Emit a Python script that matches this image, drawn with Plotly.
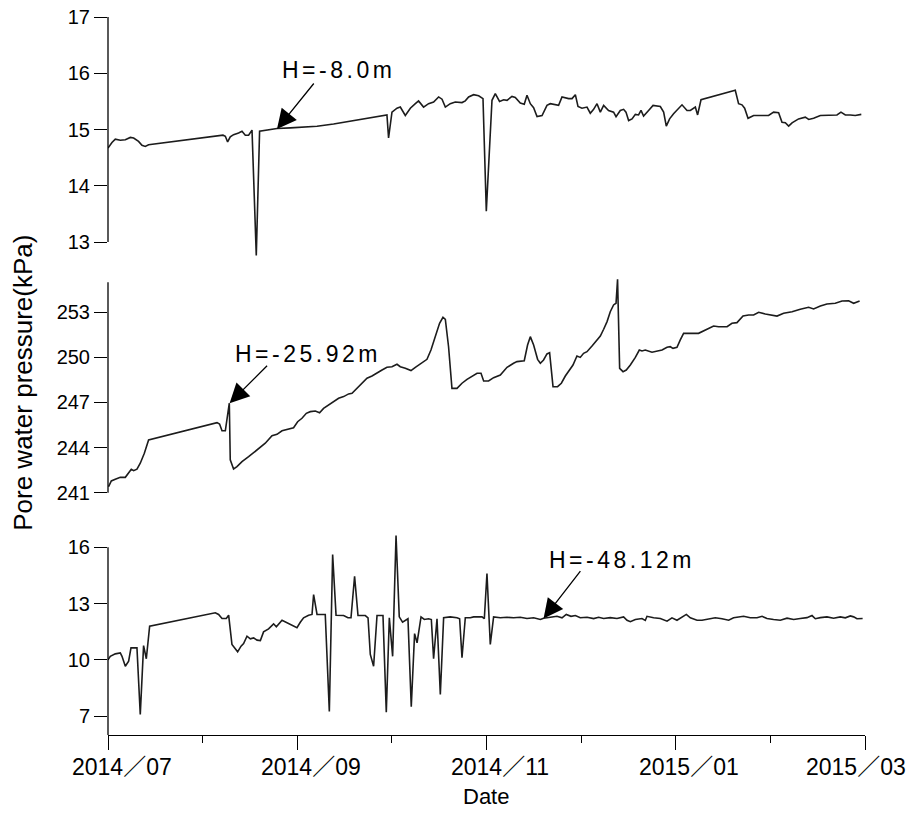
import plotly.graph_objects as go

# time axis: months elapsed since 2014/07/01 (one tick per month)
month_ticks = [0, 2, 4, 6, 8]
month_labels = ["2014／07", "2014／09", "2014／11", "2015／01", "2015／03"]
minor_month_ticks = [1, 3, 5, 7]

# ---------------- H = -8.0 m ----------------
t_top = [0.000, 0.042, 0.077, 0.130, 0.183, 0.236, 0.271, 0.323, 0.359, 0.394,
         0.429, 1.215, 1.240, 1.264, 1.292, 1.327, 1.380, 1.416, 1.451, 1.486,
         1.522, 1.567, 1.602, 1.680, 1.786, 1.927, 2.067, 2.209, 2.384, 2.561,
         2.737, 2.878, 2.948, 2.965, 3.001, 3.054, 3.089, 3.142, 3.195, 3.248,
         3.282, 3.335, 3.388, 3.441, 3.494, 3.530, 3.565, 3.617, 3.670, 3.741,
         3.776, 3.811, 3.864, 3.917, 3.963, 3.998, 4.058, 4.093, 4.138, 4.181,
         4.217, 4.269, 4.304, 4.357, 4.399, 4.428, 4.463, 4.498, 4.534, 4.587,
         4.639, 4.674, 4.762, 4.798, 4.868, 4.904, 4.939, 4.967, 5.009, 5.062,
         5.097, 5.132, 5.168, 5.203, 5.238, 5.290, 5.343, 5.369, 5.414, 5.449,
         5.474, 5.502, 5.538, 5.573, 5.607, 5.633, 5.660, 5.713, 5.760, 5.837,
         5.872, 5.900, 5.935, 5.977, 6.030, 6.066, 6.119, 6.154, 6.207, 6.231,
         6.267, 6.629, 6.664, 6.700, 6.728, 6.764, 6.823, 6.981, 7.034, 7.087,
         7.123, 7.158, 7.193, 7.229, 7.298, 7.369, 7.405, 7.457, 7.528, 7.704,
         7.746, 7.792, 7.845, 7.897, 7.961]
p_top = [14.67, 14.77, 14.83, 14.81, 14.82, 14.86, 14.85, 14.79, 14.72, 14.70,
         14.73, 14.90, 14.88, 14.78, 14.87, 14.91, 14.94, 14.97, 14.90, 14.90,
         14.99, 12.76, 14.97, 14.99, 15.02, 15.03, 15.04, 15.06, 15.10, 15.15,
         15.19, 15.24, 15.26, 14.85, 15.31, 15.38, 15.40, 15.25, 15.38, 15.46,
         15.51, 15.40, 15.46, 15.49, 15.58, 15.54, 15.40, 15.46, 15.49, 15.48,
         15.51, 15.58, 15.62, 15.60, 15.55, 13.55, 15.52, 15.64, 15.50, 15.53,
         15.52, 15.59, 15.57, 15.47, 15.45, 15.61, 15.46, 15.39, 15.23, 15.25,
         15.43, 15.46, 15.43, 15.58, 15.55, 15.55, 15.62, 15.41, 15.38, 15.40,
         15.29, 15.36, 15.46, 15.31, 15.43, 15.34, 15.31, 15.23, 15.34, 15.36,
         15.31, 15.16, 15.19, 15.27, 15.26, 15.34, 15.24, 15.34, 15.43, 15.41,
         15.31, 15.06, 15.19, 15.28, 15.38, 15.44, 15.34, 15.34, 15.40, 15.26,
         15.53, 15.70, 15.46, 15.44, 15.38, 15.20, 15.25, 15.25, 15.31, 15.30,
         15.13, 15.12, 15.06, 15.12, 15.19, 15.22, 15.18, 15.20, 15.25, 15.26,
         15.31, 15.26, 15.26, 15.25, 15.27]

# ---------------- H = -25.92 m ----------------
t_mid = [0.006, 0.035, 0.077, 0.130, 0.183, 0.218, 0.246, 0.271, 0.306, 0.341,
         0.384, 0.429, 1.152, 1.179, 1.205, 1.240, 1.268, 1.282, 1.292, 1.327,
         1.363, 1.416, 1.486, 1.575, 1.662, 1.733, 1.786, 1.839, 1.892, 1.961,
         2.004, 2.050, 2.096, 2.138, 2.191, 2.236, 2.278, 2.331, 2.384, 2.437,
         2.490, 2.543, 2.579, 2.631, 2.684, 2.737, 2.790, 2.843, 2.896, 2.948,
         3.001, 3.054, 3.089, 3.142, 3.202, 3.248, 3.318, 3.371, 3.413, 3.459,
         3.504, 3.540, 3.565, 3.599, 3.635, 3.688, 3.741, 3.794, 3.864, 3.900,
         3.942, 3.970, 4.022, 4.075, 4.146, 4.217, 4.286, 4.322, 4.399, 4.434,
         4.463, 4.498, 4.540, 4.569, 4.603, 4.639, 4.667, 4.703, 4.751, 4.791,
         4.833, 4.886, 4.914, 4.956, 4.991, 5.026, 5.062, 5.115, 5.168, 5.203,
         5.238, 5.274, 5.308, 5.343, 5.369, 5.385, 5.407, 5.443, 5.477, 5.520,
         5.573, 5.615, 5.643, 5.678, 5.749, 5.855, 5.908, 5.942, 5.971, 6.013,
         6.048, 6.083, 6.241, 6.330, 6.400, 6.453, 6.542, 6.594, 6.647, 6.711,
         6.770, 6.823, 6.876, 6.946, 7.017, 7.070, 7.140, 7.229, 7.316, 7.404,
         7.457, 7.528, 7.598, 7.686, 7.757, 7.827, 7.880, 7.943]
p_mid = [241.40, 241.78, 241.89, 242.02, 242.02, 242.29, 242.56, 242.46, 242.56, 242.96,
         243.62, 244.51, 245.66, 245.57, 245.12, 245.12, 246.39, 246.95, 243.18, 242.58,
         242.73, 243.06, 243.39, 243.84, 244.29, 244.79, 244.88, 245.12, 245.22, 245.32,
         245.72, 245.95, 246.28, 246.39, 246.43, 246.32, 246.61, 246.83, 247.05, 247.28,
         247.39, 247.57, 247.61, 247.94, 248.28, 248.61, 248.76, 248.98, 249.16, 249.34,
         249.38, 249.54, 249.38, 249.28, 249.12, 249.34, 249.61, 249.87, 250.49, 251.38,
         252.27, 252.67, 252.53, 250.71, 247.94, 247.94, 248.28, 248.54, 248.83, 248.94,
         248.94, 248.43, 248.43, 248.65, 248.83, 249.34, 249.61, 249.72, 249.78, 250.82,
         251.38, 250.82, 249.87, 249.61, 249.83, 250.23, 250.31, 248.05, 248.05, 248.28,
         248.76, 249.21, 249.49, 250.09, 250.00, 250.27, 250.38, 250.76, 251.16, 251.42,
         251.87, 252.38, 253.04, 253.49, 253.60, 255.20, 249.27, 249.05, 249.16, 249.49,
         250.00, 250.49, 250.43, 250.49, 250.34, 250.49, 250.67, 250.71, 250.60, 250.67,
         251.16, 251.60, 251.60, 251.87, 252.09, 252.04, 252.04, 252.27, 252.31, 252.75,
         252.82, 252.82, 253.00, 252.89, 252.82, 252.75, 252.93, 253.04, 253.20, 253.33,
         253.22, 253.42, 253.55, 253.60, 253.75, 253.77, 253.60, 253.75]

# ---------------- H = -48.12 m ----------------
t_bot = [0.000, 0.024, 0.077, 0.130, 0.148, 0.183, 0.218, 0.243, 0.271, 0.306,
         0.341, 0.376, 0.405, 0.440, 1.134, 1.169, 1.205, 1.250, 1.275, 1.310,
         1.370, 1.406, 1.433, 1.469, 1.504, 1.539, 1.575, 1.610, 1.644, 1.697,
         1.750, 1.779, 1.839, 1.927, 1.997, 2.032, 2.067, 2.120, 2.156, 2.173,
         2.209, 2.296, 2.339, 2.374, 2.410, 2.490, 2.536, 2.568, 2.606, 2.642,
         2.719, 2.748, 2.772, 2.807, 2.843, 2.906, 2.941, 2.973, 3.008, 3.044,
         3.078, 3.113, 3.152, 3.170, 3.205, 3.240, 3.266, 3.308, 3.343, 3.388,
         3.417, 3.441, 3.477, 3.512, 3.547, 3.617, 3.688, 3.716, 3.741, 3.776,
         3.829, 3.864, 3.952, 3.977, 4.005, 4.040, 4.075, 4.146, 4.217, 4.286,
         4.357, 4.428, 4.498, 4.569, 4.603, 4.674, 4.745, 4.798, 4.843, 4.893,
         4.939, 4.991, 5.062, 5.132, 5.185, 5.238, 5.308, 5.379, 5.449, 5.485,
         5.520, 5.573, 5.643, 5.678, 5.696, 5.766, 5.837, 5.908, 5.960, 6.013,
         6.066, 6.112, 6.154, 6.225, 6.277, 6.347, 6.418, 6.489, 6.559, 6.611,
         6.664, 6.717, 6.788, 6.859, 6.912, 6.964, 7.034, 7.105, 7.176, 7.246,
         7.316, 7.387, 7.440, 7.475, 7.528, 7.598, 7.668, 7.739, 7.792, 7.845,
         7.880, 7.915, 7.975]
p_bot = [10.00, 10.19, 10.32, 10.37, 10.19, 9.66, 9.93, 10.64, 10.64, 10.64,
         7.09, 10.76, 10.06, 11.79, 12.51, 12.42, 12.20, 12.20, 12.38, 10.82,
         10.43, 10.73, 10.87, 11.26, 11.12, 11.17, 11.05, 11.03, 11.49, 11.65,
         11.92, 11.76, 12.11, 11.88, 11.71, 12.00, 12.24, 12.38, 12.42, 13.48,
         12.42, 12.42, 7.25, 15.61, 12.38, 12.36, 12.24, 12.24, 14.45, 12.36,
         12.36, 12.24, 10.29, 9.66, 12.36, 12.36, 7.21, 12.24, 10.19, 16.62,
         12.29, 12.01, 12.15, 12.19, 7.50, 11.40, 10.91, 12.29, 12.15, 12.19,
         12.15, 10.06, 12.19, 8.16, 12.24, 12.29, 12.24, 12.19, 10.11, 12.24,
         12.24, 12.29, 12.29, 12.19, 14.60, 10.82, 12.29, 12.24, 12.27, 12.24,
         12.27, 12.20, 12.24, 12.15, 12.22, 12.29, 12.32, 12.24, 12.42, 12.32,
         12.36, 12.24, 12.27, 12.20, 12.27, 12.20, 12.25, 12.20, 12.29, 12.11,
         12.03, 12.15, 12.20, 12.10, 12.32, 12.24, 12.20, 12.06, 12.24, 12.11,
         12.29, 12.42, 12.24, 12.11, 12.11, 12.19, 12.24, 12.19, 12.11, 12.24,
         12.27, 12.32, 12.24, 12.24, 12.32, 12.20, 12.15, 12.11, 12.22, 12.15,
         12.20, 12.25, 12.36, 12.19, 12.25, 12.29, 12.22, 12.29, 12.24, 12.34,
         12.29, 12.19, 12.20]

ticks_top = [13, 14, 15, 16, 17]
ticks_mid = [241, 244, 247, 250, 253]
ticks_bot = [7, 10, 13, 16]

FONT = "Arial, 'Liberation Sans', 'Noto Sans CJK SC', sans-serif"
LINE = dict(color="#1c1c1c", width=1.6)

fig = go.Figure()
fig.add_trace(go.Scatter(x=t_top, y=p_top, mode="lines", line=LINE, xaxis="x", yaxis="y"))
fig.add_trace(go.Scatter(x=t_mid, y=p_mid, mode="lines", line=LINE, xaxis="x2", yaxis="y2"))
fig.add_trace(go.Scatter(x=t_bot, y=p_bot, mode="lines", line=LINE, xaxis="x3", yaxis="y3"))

hidden_x = dict(range=[0, 8], domain=[0, 1], showgrid=False, zeroline=False,
                showline=False, ticks="", showticklabels=False, automargin=False)

def yax(domain, rng, vals):
    return dict(domain=domain, range=rng, tickmode="array", tickvals=vals,
                ticks="outside", ticklen=13, tickwidth=1.3, tickcolor="black",
                showline=False, showgrid=False, zeroline=False, automargin=False,
                ticklabeloverflow="allow",
                tickfont=dict(size=20, color="black", family=FONT))

fig.update_layout(
    width=914, height=815,
    margin=dict(l=100, r=57, t=0, b=88, autoexpand=False),
    plot_bgcolor="white", paper_bgcolor="white",
    showlegend=False,
    font=dict(family=FONT, color="black"),
    xaxis=dict(hidden_x, anchor="y"),
    xaxis2=dict(hidden_x, anchor="y2"),
    xaxis3=dict(range=[0, 8], domain=[0, 1], anchor="y3", automargin=False,
                showgrid=False, zeroline=False,
                showline=True, linecolor="black", linewidth=1.3,
                tickmode="array", tickvals=month_ticks, showticklabels=False,
                ticks="outside", ticklen=14, tickwidth=1.3, tickcolor="black",
                minor=dict(tickmode="array", tickvals=minor_month_ticks,
                           ticks="outside", ticklen=7, tickwidth=1.3,
                           tickcolor="black", showgrid=False)),
    yaxis=dict(yax([0.6471, 0.9914], [12.6, 17.05], ticks_top), anchor="x"),
    yaxis2=dict(yax([0.3292, 0.6290], [240.8, 255.3], ticks_mid), anchor="x2"),
    yaxis3=dict(yax([0.0, 0.2790], [6.0, 16.8], ticks_bot), anchor="x3"),
)

# date labels under the bottom axis (placed slightly right of each tick, as in the source)
label_shift = [14, 14, 13, 13, -9]
for xv, txt, sh in zip(month_ticks, month_labels, label_shift):
    fig.add_annotation(xref="x3", yref="paper", x=xv, y=-0.044, xshift=sh,
                       text=txt, showarrow=False, xanchor="center", yanchor="middle",
                       font=dict(size=23, color="black", family=FONT))

# left axis lines spanning only the labelled value ranges
for yref, y0, y1 in [("y", 13, 17), ("y2", 241, 255), ("y3", 6, 16)]:
    fig.add_shape(type="line", xref="paper", yref=yref, x0=0, x1=0, y0=y0, y1=y1,
                  line=dict(color="black", width=1.3))

LS = "letter-spacing:3.5px"
labels = [
    ("x", "y", 2.434, 16.06, "H=-8.0m"),
    ("x2", "y2", 2.111, 250.23, "H=-25.92m"),
    ("x3", "y3", 5.432, 15.34, "H=-48.12m"),
]
for xr, yr, xv, yv, txt in labels:
    fig.add_annotation(xref=xr, yref=yr, x=xv, y=yv, showarrow=False,
                       xanchor="center", yanchor="middle",
                       text=f'<span style="{LS}">{txt}</span>',
                       font=dict(size=23, color="black", family=FONT))

arrows = [
    ("x", "y", 1.786, 15.01, 38, -47),
    ("x2", "y2", 1.285, 246.95, 39, -39),
    ("x3", "y3", 4.603, 12.20, 38, -49),
]
for xr, yr, xv, yv, ax, ay in arrows:
    fig.add_annotation(xref=xr, yref=yr, x=xv, y=yv, text="", showarrow=True,
                       ax=ax, ay=ay, arrowhead=2, arrowsize=3.0, arrowwidth=1.3,
                       arrowcolor="black", standoff=0)

fig.add_annotation(xref="paper", yref="paper", x=-0.1119, y=0.4849,
                   xanchor="center", yanchor="middle",
                   text="Pore water pressure(kPa)", textangle=-90, showarrow=False,
                   font=dict(size=26, color="black", family=FONT))
fig.add_annotation(xref="paper", yref="paper", x=0.499, y=-0.0849,
                   xanchor="center", yanchor="middle",
                   text="Date", showarrow=False,
                   font=dict(size=22, color="black", family=FONT))

fig.write_html("out.html")
